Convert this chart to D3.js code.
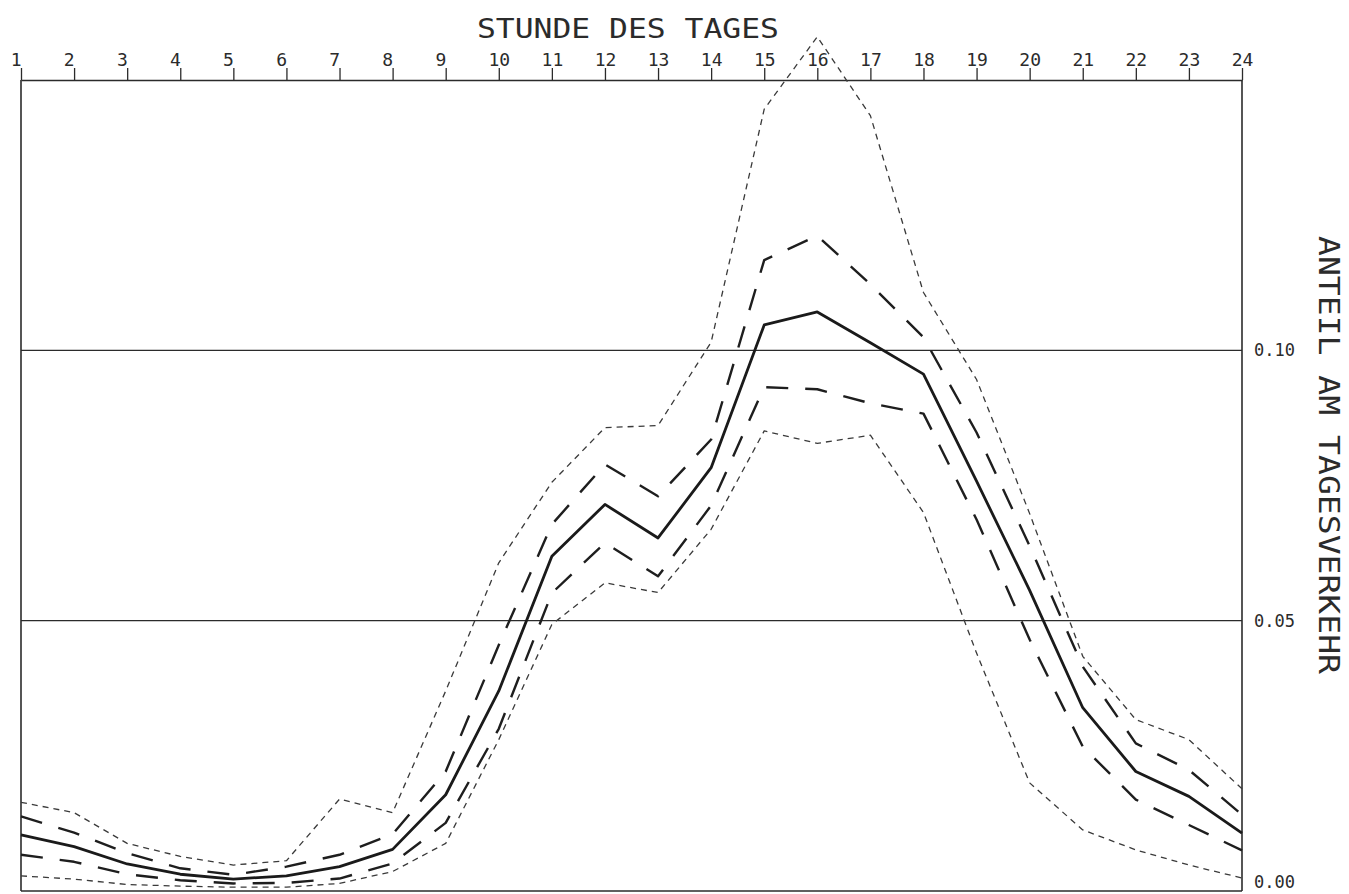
<!DOCTYPE html>
<html>
<head>
<meta charset="utf-8">
<script src="https://cdn.jsdelivr.net/npm/d3@7"></script>
<style>
  html, body { margin: 0; padding: 0; background: #fff; }
  svg { display: block; }
  text { font-family: "DejaVu Sans Mono", "Liberation Mono", monospace; fill: #2b2b2b; }
</style>
</head>
<body>
<svg id="chart" width="1349" height="894"></svg>
<script>
// ---- data ----
const hours = [1,2,3,4,5,6,7,8,9,10,11,12,13,14,15,16,17,18,19,20,21,22,23,24];
const hourLabels = ["1","2","3","4","5","6","7","8","9","10","11","12","13","14","15","16","17","18","19","20","21","22","23","24"];
// mean share of daily traffic
const meanShare = [0.0104,0.0082,0.0050,0.0031,0.0022,0.0028,0.0045,0.0077,0.0178,0.0370,0.0619,0.0715,0.0653,0.0783,0.1047,0.1071,0.1014,0.0956,0.0758,0.0556,0.0339,0.0221,0.0175,0.0107];
// inner band (long dashed)
const innerUpper = [0.0138,0.0108,0.0070,0.0042,0.0030,0.0045,0.0067,0.0105,0.0221,0.0455,0.0678,0.0789,0.0730,0.0835,0.1167,0.1212,0.1122,0.1024,0.0848,0.0638,0.0415,0.0273,0.0224,0.0141];
const innerLower = [0.0067,0.0054,0.0031,0.0020,0.0014,0.0015,0.0023,0.0051,0.0126,0.0300,0.0551,0.0644,0.0582,0.0713,0.0932,0.0928,0.0902,0.0883,0.0687,0.0465,0.0267,0.0169,0.0122,0.0075];
// outer band (short dashed)
const outerUpper = [0.0164,0.0145,0.0088,0.0064,0.0048,0.0056,0.0170,0.0145,0.0370,0.0607,0.0756,0.0857,0.0861,0.1015,0.1446,0.1580,0.1434,0.1107,0.0946,0.0698,0.0434,0.0317,0.0280,0.0189];
const outerLower = [0.0028,0.0022,0.0012,0.0009,0.0007,0.0007,0.0014,0.0036,0.0088,0.0280,0.0493,0.0570,0.0552,0.0669,0.0851,0.0828,0.0843,0.0700,0.0440,0.0200,0.0113,0.0076,0.0048,0.0024];
const yTicks = [0.00, 0.05, 0.10];
const gridValues = [0.05, 0.10];
const xTitle = "STUNDE DES TAGES";
const yTitle = "ANTEIL AM TAGESVERKEHR";

// ---- layout ----
const svg = d3.select("#chart");
const x = d3.scaleLinear().domain([1, 24]).range([21, 1242]);
const y = d3.scaleLinear().domain([0, 0.15]).range([891, 80]);
const ink = "#2b2b2b";

// grid lines
svg.append("g").selectAll("line").data(gridValues).join("line")
  .attr("x1", x(1)).attr("x2", x(24))
  .attr("y1", d => y(d)).attr("y2", d => y(d))
  .attr("stroke", ink).attr("stroke-width", 1.3);

// frame (left, right, bottom)
const frame = svg.append("g").attr("stroke", ink).attr("stroke-width", 1.6).attr("fill", "none");
frame.append("line").attr("x1", x(1)).attr("x2", x(1)).attr("y1", y(0.15)).attr("y2", y(0));
frame.append("line").attr("x1", x(24)).attr("x2", x(24)).attr("y1", y(0.15)).attr("y2", y(0));
frame.append("line").attr("x1", x(1)).attr("x2", x(24)).attr("y1", y(0)).attr("y2", y(0));

// top axis
const topAxis = d3.axisTop(x).tickValues(hours).tickSize(12).tickSizeOuter(0)
  .tickFormat((d, i) => hourLabels[i]);
const gTop = svg.append("g").attr("transform", `translate(0,${y(0.15)})`).call(topAxis);
gTop.select(".domain").attr("stroke", ink).attr("stroke-width", 1.6);
gTop.selectAll(".tick line").attr("stroke", ink).attr("stroke-width", 1.3);
gTop.selectAll(".tick text")
  .attr("font-size", 18).attr("font-family", null)
  .attr("text-anchor", "start").attr("x", -10.8).attr("y", -14).attr("dy", null)
  .attr("fill", ink);

// right axis labels
const rightAxis = d3.axisRight(y).tickValues(yTicks).tickSize(0).tickPadding(12)
  .tickFormat(d3.format(".2f"));
const gRight = svg.append("g").attr("transform", `translate(${x(24)},0)`).call(rightAxis);
gRight.select(".domain").remove();
gRight.selectAll(".tick text").attr("font-size", 17).attr("font-family", null).attr("fill", ink)
  .attr("dy", d => d === 0 ? "-0.2em" : "0.32em");

// titles
svg.append("text").attr("x", 477).attr("y", 38)
  .attr("font-size", 27).attr("textLength", 302).attr("lengthAdjust", "spacingAndGlyphs")
  .text(xTitle);
svg.append("text").attr("transform", "translate(1319,236) rotate(90)")
  .attr("font-size", 28).attr("textLength", 438).attr("lengthAdjust", "spacingAndGlyphs")
  .text(yTitle);

// series
const line = d3.line().x((d, i) => x(hours[i])).y(d => y(d));
const series = [
  { values: outerUpper, dash: "6,5", width: 1.3, color: "#3a3a3a" },
  { values: outerLower, dash: "6,5", width: 1.3, color: "#3a3a3a" },
  { values: innerUpper, dash: "22,17", width: 2.4, color: "#1e1e1e" },
  { values: innerLower, dash: "22,17", width: 2.4, color: "#1e1e1e" },
  { values: meanShare, dash: null, width: 2.8, color: "#1a1a1a" }
];
svg.append("g").selectAll("path").data(series).join("path")
  .attr("d", d => line(d.values))
  .attr("fill", "none")
  .attr("stroke", d => d.color)
  .attr("stroke-width", d => d.width)
  .attr("stroke-dasharray", d => d.dash)
  .attr("stroke-linejoin", "round");
</script>
</body>
</html>
